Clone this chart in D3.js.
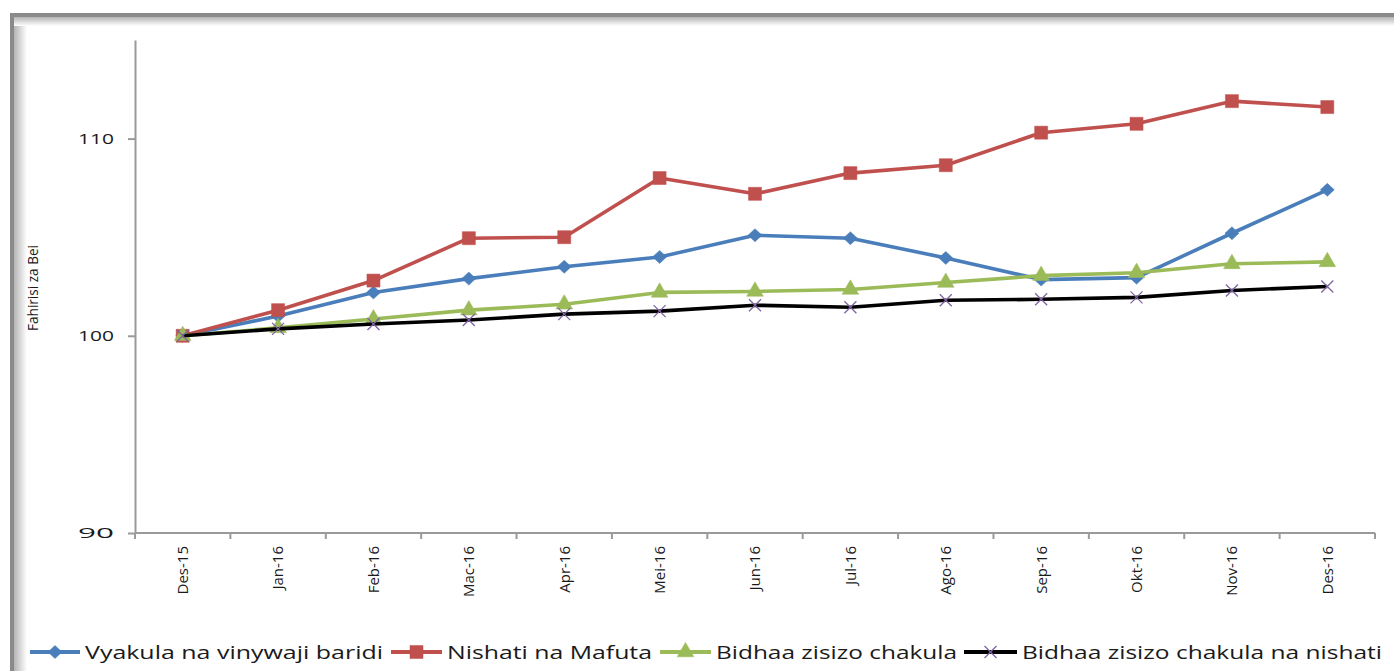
<!DOCTYPE html>
<html>
<head>
<meta charset="utf-8">
<script src="https://cdn.jsdelivr.net/npm/d3@7"></script>
<style>
html,body{margin:0;padding:0;background:#fff;}
svg{display:block;}
</style>
</head>
<body>
<svg id="chart" width="1394" height="671"></svg>
<script>
// ---------- DATA ----------
const categories = ["Des-15","Jan-16","Feb-16","Mac-16","Apr-16","Mei-16","Jun-16","Jul-16","Ago-16","Sep-16","Okt-16","Nov-16","Des-16"];
const seriesNames = ["Vyakula na vinywaji baridi","Nishati na Mafuta","Bidhaa zisizo chakula","Bidhaa zisizo chakula na nishati"];
const vyakula  = [100, 101.0, 102.2, 102.9, 103.5, 104.0, 105.1, 104.95, 103.95, 102.85, 102.95, 105.2, 107.4];
const nishati  = [100, 101.3, 102.8, 104.95, 105.0, 108.0, 107.2, 108.25, 108.65, 110.3, 110.75, 111.9, 111.6];
const bidhaa   = [100, 100.4, 100.85, 101.3, 101.6, 102.2, 102.25, 102.35, 102.7, 103.05, 103.2, 103.65, 103.75];
const bidhaaNN = [100, 100.35, 100.6, 100.8, 101.1, 101.25, 101.55, 101.45, 101.8, 101.85, 101.95, 102.3, 102.5];
const yTicks = [90, 100, 110];
const yTitle = "Fahirisi za Bei";

// ---------- LAYOUT ----------
const svg = d3.select("#chart");
const X0 = 135, X1 = 1375, Y0 = 533, Y1 = 40;

// frame with shadow
const defs = svg.append("defs");
const gl = defs.append("linearGradient").attr("id","gL").attr("x1","0").attr("x2","1").attr("y1","0").attr("y2","0");
gl.append("stop").attr("offset","0").attr("stop-color","#b4b4b4");
gl.append("stop").attr("offset","1").attr("stop-color","#ffffff");
const gt = defs.append("linearGradient").attr("id","gT").attr("x1","0").attr("x2","0").attr("y1","0").attr("y2","1");
gt.append("stop").attr("offset","0").attr("stop-color","#b4b4b4");
gt.append("stop").attr("offset","1").attr("stop-color","#ffffff");
svg.append("rect").attr("x",14).attr("y",17).attr("width",13).attr("height",671).attr("fill","url(#gL)");
svg.append("rect").attr("x",14).attr("y",17).attr("width",1394).attr("height",9).attr("fill","url(#gT)");
svg.append("rect").attr("x",10).attr("y",13).attr("width",4).attr("height",671).attr("fill","#8a8a8a");
svg.append("rect").attr("x",10).attr("y",13).attr("width",1394).attr("height",4).attr("fill","#8a8a8a");

// scales
const xBand = d3.scaleBand().domain(categories).range([X0, X1]).padding(0);
const x = d3.scalePoint().domain(categories).range([X0, X1]).padding(0.5);
const y = d3.scaleLinear().domain([90, 115]).range([Y0, Y1]);

// y axis
const yAxis = svg.append("g").attr("transform",`translate(${X0},0)`)
  .call(d3.axisLeft(y).tickValues(yTicks).tickSize(7).tickSizeOuter(0).tickPadding(14));
yAxis.select(".domain").attr("stroke","#9a9a9a").attr("stroke-width",2);
yAxis.selectAll(".tick line").attr("stroke","#9a9a9a").attr("stroke-width",2);
yAxis.selectAll(".tick text").attr("font-family","'Open Sans', sans-serif").attr("font-size",15)
  .attr("fill","#1a1a1a").attr("textLength",36).attr("lengthAdjust","spacingAndGlyphs");

// x axis
const xAxis = svg.append("g").attr("transform",`translate(0,${Y0})`);
xAxis.append("line").attr("x1",X0).attr("x2",X1).attr("y1",0).attr("y2",0).attr("stroke","#9a9a9a").attr("stroke-width",2);
const bounds = categories.map(c => xBand(c)).concat([X1]);
xAxis.selectAll("line.t").data(bounds).join("line").attr("class","t")
  .attr("x1",d=>d).attr("x2",d=>d).attr("y1",0).attr("y2",6).attr("stroke","#9a9a9a").attr("stroke-width",2);
xAxis.selectAll("text").data(categories).join("text")
  .attr("transform",d=>`translate(${x(d)},13) rotate(-90)`)
  .attr("text-anchor","end").attr("dy","0.36em")
  .attr("font-family","'Open Sans', sans-serif").attr("font-size",15).attr("fill","#1a1a1a")
  .text(d=>d);

// y title
svg.append("text").attr("transform","translate(33,288) rotate(-90)")
  .attr("text-anchor","middle").attr("dy","0.35em")
  .attr("font-family","'Open Sans', sans-serif").attr("font-size",14).attr("fill","#1a1a1a")
  .attr("textLength",86).attr("lengthAdjust","spacingAndGlyphs")
  .text(yTitle);

// series
const series = [
  {name: seriesNames[0], values: vyakula,  color: "#4a7ebb", marker: "diamond"},
  {name: seriesNames[1], values: nishati,  color: "#c0504d", marker: "square"},
  {name: seriesNames[2], values: bidhaa,   color: "#9bbb59", marker: "triangle"},
  {name: seriesNames[3], values: bidhaaNN, color: "#000000", marker: "x"}
];

function markerPath(type){
  if (type === "diamond") return "M0,-6.5L7,0L0,6.5L-7,0Z";
  if (type === "square") return d3.symbol(d3.symbolSquare, 170)();
  if (type === "triangle") return d3.symbol(d3.symbolTriangle, 120)();
  return "M-6,-6L6,6M-6,6L6,-6";
}
function drawMarker(g, type, color){
  if (type === "x") {
    g.append("path").attr("d", markerPath(type)).attr("stroke","#8064a2").attr("stroke-width",1.3).attr("fill","none");
  } else {
    g.append("path").attr("d", markerPath(type)).attr("fill", color).attr("stroke", color).attr("stroke-width",0.5);
  }
}

const line = d3.line().x((d,i)=>x(categories[i])).y(d=>y(d));
const plot = svg.append("g");
series.forEach(s => {
  plot.append("path").datum(s.values).attr("d", line).attr("fill","none")
    .attr("stroke", s.color).attr("stroke-width",3.6).attr("stroke-linejoin","round");
  s.values.forEach((v,i) => {
    const g = plot.append("g").attr("transform",`translate(${x(categories[i])},${y(v)})`);
    drawMarker(g, s.marker, s.color);
  });
});

// legend
const legendItems = [
  {x1:30, x2:80, tx:85, tw:298},
  {x1:391, x2:442, tx:447, tw:205},
  {x1:660, x2:711, tx:716, tw:241},
  {x1:964, x2:1017, tx:1022, tw:360}
];
const ly = 652;
const legend = svg.append("g");
series.forEach((s,i) => {
  const L = legendItems[i];
  legend.append("line").attr("x1",L.x1).attr("x2",L.x2).attr("y1",ly).attr("y2",ly)
    .attr("stroke",s.color).attr("stroke-width",4);
  const g = legend.append("g").attr("transform",`translate(${(L.x1+L.x2)/2},${ly})`);
  drawMarker(g, s.marker, s.color);
  legend.append("text").attr("x",L.tx).attr("y",ly).attr("dy","0.36em")
    .attr("font-family","'Open Sans', sans-serif").attr("font-size",19).attr("fill","#1a1a1a")
    .attr("textLength",L.tw).attr("lengthAdjust","spacingAndGlyphs")
    .text(s.name);
});
</script>
</body>
</html>
